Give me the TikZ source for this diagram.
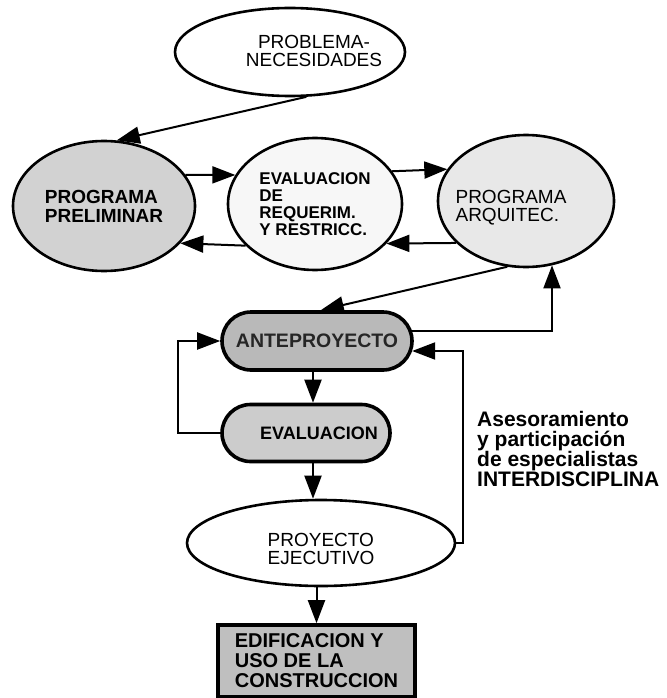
\documentclass[tikz,border=0pt]{standalone}
\usepackage{fontspec}
\setmainfont{Liberation Sans}
\usetikzlibrary{shapes.geometric,shapes.misc,arrows.meta,calc}
\begin{document}
\begin{tikzpicture}[x=1pt,y=-1pt,
  bubble/.style={ellipse,draw=black,line width=2.6pt,inner sep=0pt},
  pill/.style={rounded rectangle,draw=black,line width=3.6pt,inner sep=0pt},
  link/.style={draw=black,line width=2pt,-{Triangle[length=23pt,width=17pt]}},
  reg/.style={font=\fontsize{19}{18}\selectfont},
  bld/.style={font=\bfseries\fontsize{19}{19}\selectfont},
  txt/.style={inner sep=0pt},
]
\useasboundingbox (0,0) rectangle (666,698);

% ---- upper row ----
\node[bubble,minimum width=230pt,minimum height=88pt] (prob) at (290,52) {};
\node[txt,reg,align=center] (probtxt) at (314,51) {PROBLEMA-\\NECESIDADES};

\node[bubble,fill=gray!35,minimum width=182pt,minimum height=130pt,bld,align=left] (pp) at (104,206) {PROGRAMA\\PRELIMINAR};
\node[bubble,fill=gray!6,minimum width=174pt,minimum height=132pt,align=left,
      font=\bfseries\fontsize{17}{17}\selectfont] (ev) at (315,204)
      {EVALUACION\\DE\\REQUERIM.\\Y RESTRICC.};
\node[bubble,fill=gray!18,minimum width=176pt,minimum height=132pt] (pa) at (526,201) {};
\node[txt,reg,align=left] (patxt) at (511,208) {PROGRAMA\\ARQUITEC.};

% ---- central column ----
\node[pill,fill=gray!55,minimum width=190pt,minimum height=58pt,text=black!85,
      font=\bfseries\fontsize{19.5}{19.5}\selectfont] (ante) at (317,341) {ANTEPROYECTO};
\node[pill,fill=gray!40,minimum width=168pt,minimum height=57pt,
      font=\bfseries\fontsize{18}{18}\selectfont] (eval) at (306,433) {\hspace*{26pt}EVALUACION};
\node[bubble,fill=white,minimum width=268pt,minimum height=86pt] (pe) at (321,543) {};
\node[txt,reg,align=left] (petxt) at (321,549) {PROYECTO\\EJECUTIVO};
\node[rectangle,draw=black,line width=3.6pt,fill=gray!50,minimum width=197pt,minimum height=72pt,
      inner sep=0pt,align=left,font=\bfseries\fontsize{20}{20}\selectfont] (ed) at (316.5,661)
      {EDIFICACION Y\\USO DE LA\\CONSTRUCCION};

\node[anchor=north west,inner sep=0pt,align=left,font=\bfseries\fontsize{21}{20}\selectfont] (note) at (477,411)
  {Asesoramiento\\y participación\\de especialistas\\INTERDISCIPLINA};

% ---- connectors ----
\coordinate (spine) at (313,0);
\draw[link] (prob.-70.8) -- (pp.79);
\draw[link] (pp.21.2) -- (ev.160.4);
\draw[link] (ev.23.7) -- (pa.158.25);
\draw[link] (pa.-149.3) -- (ev.-29.05);
\draw[link] (ev.-149.97) -- (pp.-26.3);
\draw[link] (pa.-106) -- (ante.83);
\draw[link] (ante.6) -| (pa.-68);
\draw[link] (eval.west) -- ++(-42,0) |- (ante.west);
\draw[link] (pe.east) -- ++(7,0) |- (ante.-6);
\draw[link] (ante.south -| spine) -- (eval.north -| spine);
\draw[link] (eval.south -| spine) -- (pe.north -| spine);
\draw[link] (pe.south -| ed.north) -- (ed.north);
\end{tikzpicture}
\end{document}
